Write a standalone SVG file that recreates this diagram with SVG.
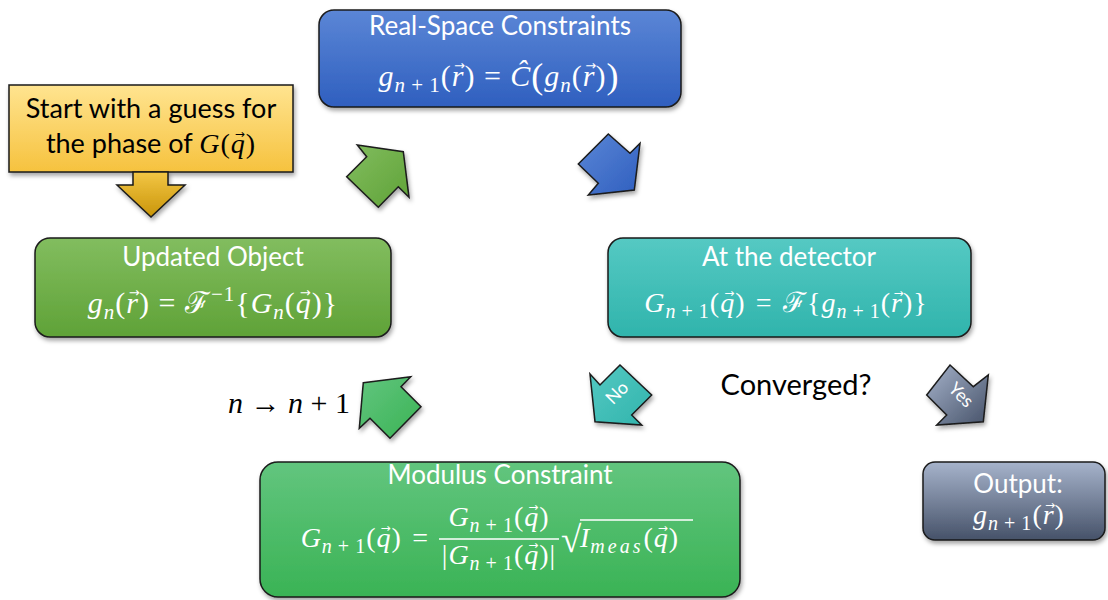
<svg xmlns="http://www.w3.org/2000/svg" width="1108" height="600" viewBox="0 0 1108 600">
<defs>
<filter id="sh" x="-20%" y="-20%" width="140%" height="150%"><feDropShadow dx="1.5" dy="3" stdDeviation="2" flood-color="#000" flood-opacity="0.35"/></filter>
<linearGradient id="gBlue" x1="0" y1="0" x2="0" y2="1"><stop offset="0" stop-color="#5B86D6"/><stop offset="1" stop-color="#2F5FBF"/></linearGradient>
<linearGradient id="gBlueA" x1="0" y1="0" x2="1" y2="1"><stop offset="0" stop-color="#5B86D6"/><stop offset="1" stop-color="#2F5FBF"/></linearGradient>
<linearGradient id="gYel" x1="0" y1="0" x2="0" y2="1"><stop offset="0" stop-color="#FFE490"/><stop offset="1" stop-color="#F6C23E"/></linearGradient>
<linearGradient id="gYelA" x1="0" y1="0" x2="0" y2="1"><stop offset="0" stop-color="#F3C645"/><stop offset="1" stop-color="#C99509"/></linearGradient>
<linearGradient id="gGreen" x1="0" y1="0" x2="0" y2="1"><stop offset="0" stop-color="#82BD5F"/><stop offset="1" stop-color="#5FA237"/></linearGradient>
<linearGradient id="gGreenA" x1="0" y1="0" x2="1" y2="1"><stop offset="0" stop-color="#82BD5F"/><stop offset="1" stop-color="#5FA237"/></linearGradient>
<linearGradient id="gTeal" x1="0" y1="0" x2="0" y2="1"><stop offset="0" stop-color="#55C9C3"/><stop offset="1" stop-color="#30B4AC"/></linearGradient>
<linearGradient id="gTealA" x1="0" y1="0" x2="1" y2="1"><stop offset="0" stop-color="#55C9C3"/><stop offset="1" stop-color="#30B4AC"/></linearGradient>
<linearGradient id="gMod" x1="0" y1="0" x2="0" y2="1"><stop offset="0" stop-color="#62C57E"/><stop offset="1" stop-color="#3AB355"/></linearGradient>
<linearGradient id="gModA" x1="0" y1="0" x2="1" y2="1"><stop offset="0" stop-color="#62C57E"/><stop offset="1" stop-color="#3AB355"/></linearGradient>
<linearGradient id="gGray" x1="0" y1="0" x2="0" y2="1"><stop offset="0" stop-color="#A6B3CB"/><stop offset="1" stop-color="#465269"/></linearGradient>
<linearGradient id="gGrayA" x1="0" y1="0" x2="1" y2="1"><stop offset="0" stop-color="#A6B3CB"/><stop offset="1" stop-color="#465269"/></linearGradient>
</defs>
<style>
.box{stroke:#1a1a1a;stroke-width:1.5;filter:url(#sh)}
.arr{stroke:#1a1a1a;stroke-width:1.5;stroke-linejoin:miter;filter:url(#sh)}
.t{font-family:Lato,"Open Sans",sans-serif;font-size:26px;text-anchor:middle}
.w{fill:#fff}
.k{fill:#000}
.m{font-family:"Liberation Serif","DejaVu Serif",serif;font-size:28px;font-style:normal;letter-spacing:1px}
.m30{font-size:30px}
.i{font-style:italic}
.s{font-size:20px}
.s30{font-size:21px}
.va{font-family:"DejaVu Sans",sans-serif;font-size:12px;font-style:normal;letter-spacing:0}
.va13{font-size:13px}
.bp{font-size:36px}
</style>
<rect width="1108" height="600" fill="#fff"/>

<g id="connectors">
<polygon class="arr" fill="url(#gGreenA)" points="357.3,145 403.3,151.7 409,197.3 398.3,186.7 378.3,207.3 346.7,176.7 366.7,156.7"/>
<polygon class="arr" fill="url(#gBlueA)" points="608.3,134 630,153.3 640,143.3 634.3,190 588.3,195 598.3,183.3 578.3,164"/>
<polygon class="arr" fill="url(#gModA)" points="363.3,382.7 410.7,376.7 401,386.7 421,406.7 390,438.3 370,418.3 359.3,428.3"/>
<polygon class="arr" fill="url(#gTealA)" points="590,374 600,385 620,365 651.7,395 631.7,415 641.7,425 595,421.7"/>
<polygon class="arr" fill="url(#gGrayA)" points="950,365 973.3,386.7 988.3,375 983.3,421.7 936.7,425 946.7,415 926.7,395"/>
<text class="t w" transform="translate(617,393) rotate(-45)" style="font-size:18px" dy="6">No</text>
<text class="t w" transform="translate(961,395) rotate(45)" style="font-size:18px" dy="6">Yes</text>
<text class="t k" x="796" y="395" style="font-size:29px">Converged?</text>
<text class="m k" x="228" y="413" style="font-size:30px;letter-spacing:0"><tspan class="i">n</tspan> → <tspan class="i">n</tspan> + 1</text>
</g>

<g id="start">
<rect class="box" x="9" y="85" width="284" height="87" fill="url(#gYel)"/>
<polygon class="box" points="133,172 168,172 168,185 185,185 151,217 117,185 133,185" fill="url(#gYelA)"/>
<text class="t k" x="151" y="118" style="font-size:27px">Start with a guess for</text>
<text class="t k" x="151" y="153" style="font-size:27px">the phase of <tspan class="m i">G</tspan><tspan class="m">(</tspan><tspan class="m i">q</tspan><tspan class="va" dx="-11" dy="-15">→</tspan><tspan class="m" dx="1" dy="15">)</tspan></text>
</g>

<g id="real-space">
<rect class="box" x="319" y="10" width="362" height="97" rx="15" fill="url(#gBlue)"/>
<text class="t w" x="500" y="35">Real-Space Constraints</text>
<text class="m m30 w" x="499" y="86" text-anchor="middle"><tspan class="i">g</tspan><tspan class="s30 i" dy="6">n</tspan><tspan class="s30">&#8201;+&#8201;1</tspan><tspan dy="-6">(</tspan><tspan class="i">r</tspan><tspan class="va va13" dx="-10.3" dy="-16">→</tspan><tspan dx="-0.6" dy="16">) = </tspan><tspan class="i">Ĉ</tspan><tspan class="bp" dy="2">(</tspan><tspan class="i" dy="-2">g</tspan><tspan class="s30 i" dy="6">n</tspan><tspan dy="-6">(</tspan><tspan class="i">r</tspan><tspan class="va va13" dx="-10.3" dy="-16">→</tspan><tspan dx="-0.6" dy="16">)</tspan><tspan class="bp" dy="2">)</tspan></text>
</g>

<g id="updated-object">
<rect class="box" x="35" y="238" width="356" height="99" rx="15" fill="url(#gGreen)"/>
<text class="t w" x="213" y="266">Updated Object</text>
<text class="m m30 w" x="213" y="313" text-anchor="middle"><tspan class="i">g</tspan><tspan class="s30 i" dy="6">n</tspan><tspan dy="-6">(</tspan><tspan class="i">r</tspan><tspan class="va va13" dx="-10.3" dy="-16">→</tspan><tspan dx="-0.6" dy="16">) = ℱ</tspan><tspan class="s30" dy="-12">−1</tspan><tspan dy="12">{</tspan><tspan class="i">G</tspan><tspan class="s30 i" dy="6">n</tspan><tspan dy="-6">(</tspan><tspan class="i">q</tspan><tspan class="va va13" dx="-12" dy="-16">→</tspan><tspan dx="1" dy="16">)}</tspan></text>
</g>

<g id="detector">
<rect class="box" x="608" y="238" width="363" height="99" rx="15" fill="url(#gTeal)"/>
<text class="t w" x="789" y="266">At the detector</text>
<text class="m w" x="786" y="312" text-anchor="middle"><tspan class="i">G</tspan><tspan class="s i" dy="6">n</tspan><tspan class="s">&#8201;+&#8201;1</tspan><tspan dy="-6">(</tspan><tspan class="i">q</tspan><tspan class="va" dx="-11" dy="-15">→</tspan><tspan dx="1" dy="15">)&#8196;=&#8196;ℱ{</tspan><tspan class="i">g</tspan><tspan class="s i" dy="6">n</tspan><tspan class="s">&#8201;+&#8201;1</tspan><tspan dy="-6">(</tspan><tspan class="i">r</tspan><tspan class="va" dx="-9.5" dy="-15">→</tspan><tspan dx="-0.6" dy="15">)}</tspan></text>
</g>

<g id="modulus">
<rect class="box" x="260" y="462" width="480" height="135" rx="18" fill="url(#gMod)"/>
<text class="t w" x="500" y="484">Modulus Constraint</text>
<text class="m w" x="429" y="547" text-anchor="end"><tspan class="i">G</tspan><tspan class="s i" dy="6">n</tspan><tspan class="s">&#8201;+&#8201;1</tspan><tspan dy="-6">(</tspan><tspan class="i">q</tspan><tspan class="va" dx="-11" dy="-15">→</tspan><tspan dx="1" dy="15">)&#8196;=</tspan></text>
<text class="m w" x="499" y="526" text-anchor="middle"><tspan class="i">G</tspan><tspan class="s i" dy="6">n</tspan><tspan class="s">&#8201;+&#8201;1</tspan><tspan dy="-6">(</tspan><tspan class="i">q</tspan><tspan class="va" dx="-11" dy="-15">→</tspan><tspan dx="1" dy="15">)</tspan></text>
<line x1="439" y1="539" x2="559" y2="539" stroke="#fff" stroke-width="1.5"/>
<text class="m w" x="499" y="564" text-anchor="middle">|<tspan class="i">G</tspan><tspan class="s i" dy="6">n</tspan><tspan class="s">&#8201;+&#8201;1</tspan><tspan dy="-6">(</tspan><tspan class="i">q</tspan><tspan class="va" dx="-11" dy="-15">→</tspan><tspan dx="1" dy="15">)|</tspan></text>
<text class="m w" x="561" y="552" style="font-size:37px">√</text>
<line x1="580" y1="520" x2="693" y2="520" stroke="#fff" stroke-width="1.5"/>
<text class="m w" x="580" y="547"><tspan class="i">I</tspan><tspan class="s i" dy="6" style="letter-spacing:3px">meas</tspan><tspan dy="-6">(</tspan><tspan class="i">q</tspan><tspan class="va" dx="-11" dy="-15">→</tspan><tspan dx="1" dy="15">)</tspan></text>
</g>

<g id="output">
<rect class="box" x="923" y="462" width="182" height="78" rx="12" fill="url(#gGray)"/>
<text class="t w" x="1018" y="493">Output:</text>
<text class="m w" x="1019" y="524" text-anchor="middle"><tspan class="i">g</tspan><tspan class="s i" dy="6">n</tspan><tspan class="s">&#8201;+&#8201;1</tspan><tspan dy="-6">(</tspan><tspan class="i">r</tspan><tspan class="va" dx="-9.5" dy="-15">→</tspan><tspan dx="-0.6" dy="15">)</tspan></text>
</g>
</svg>
